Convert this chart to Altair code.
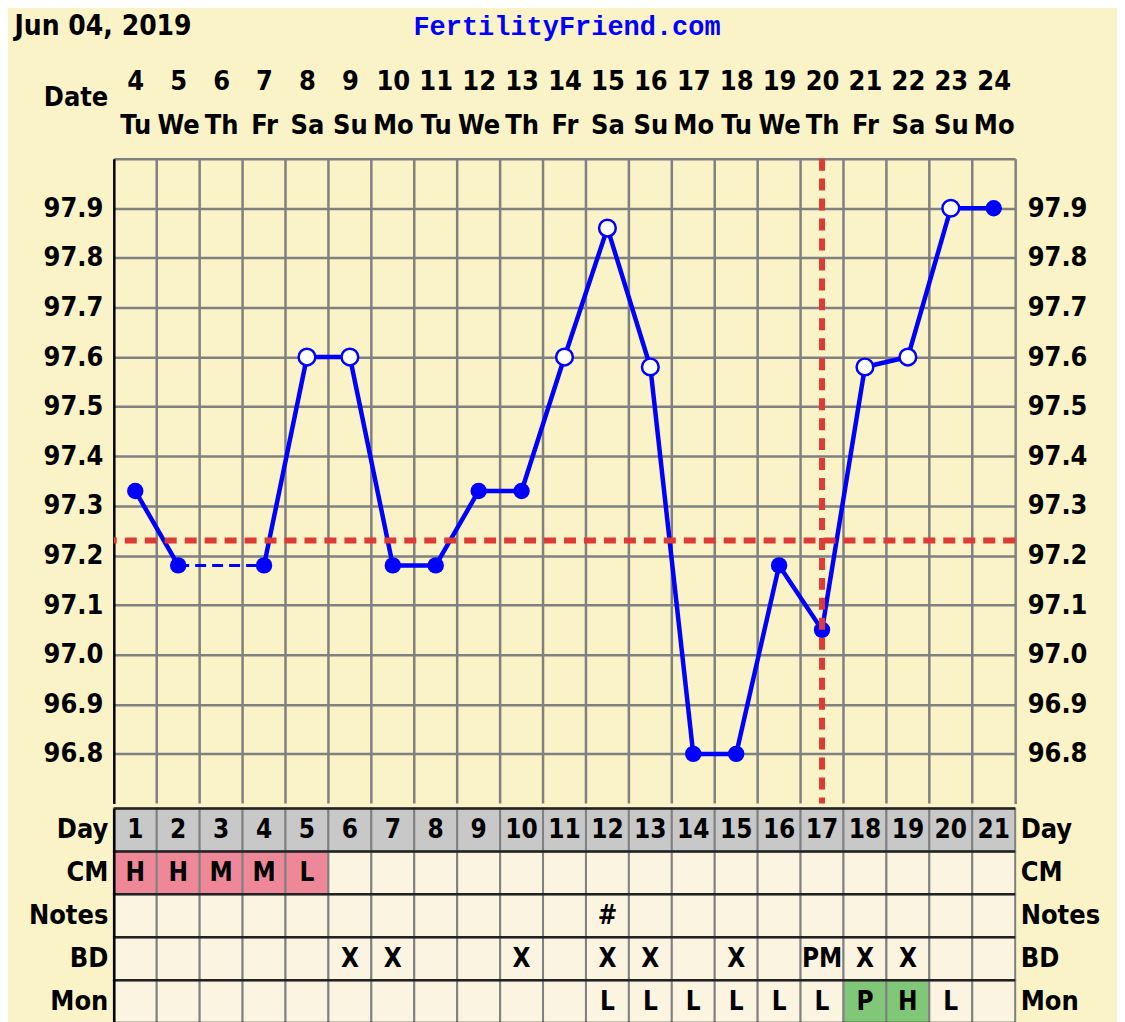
import json
import altair as alt
import pandas as pd

# ---------------- data ----------------
title_date = "Jun 04, 2019"
site_name = "FertilityFriend.com"
dates = list(range(4, 25))
weekdays = ["Tu", "We", "Th", "Fr", "Sa", "Su", "Mo", "Tu", "We", "Th", "Fr",
            "Sa", "Su", "Mo", "Tu", "We", "Th", "Fr", "Sa", "Su", "Mo"]
cycle_days = list(range(1, 22))
temps = [97.33, 97.18, None, 97.18, 97.60, 97.60, 97.18, 97.18, 97.33, 97.33, 97.60,
         97.86, 97.58, 96.80, 96.80, 97.18, 97.05, 97.58, 97.60, 97.90, 97.90]
open_circle = [False, False, False, False, True, True, False, False, False, False, True,
               True, True, False, False, False, False, True, True, True, False]
coverline = 97.23
ovulation_day = 17
temp_ticks = [96.8, 96.9, 97.0, 97.1, 97.2, 97.3, 97.4, 97.5, 97.6, 97.7, 97.8, 97.9, 98.0]
row_names = ["Day", "CM", "Notes", "BD", "Mon"]
cm = ["H", "H", "M", "M", "L"] + [""] * 16
notes = [""] * 11 + ["#"] + [""] * 9
bd = ["", "", "", "", "", "X", "X", "", "", "X", "", "X", "X", "", "X", "", "PM", "X", "X", "", ""]
mon = [""] * 11 + ["L", "L", "L", "L", "L", "L", "P", "H", "L", ""]

# ---------------- styles ----------------
FONT = "DejaVu Sans Condensed"
MONO = "Liberation Mono"
BG = "#FAF3C7"
CELL = "#FBF4E0"
GRID = "#808080"
BLUE = "#0000FF"
RED = "#DD3B35"
W = 903
H_TEMP = 646
H_TAB = 215
FS = 27
TITLE_Y = -132

xs = alt.Scale(domain=[cycle_days[0] - 0.5, cycle_days[-1] + 0.5], nice=False, zero=False)
ys = alt.Scale(domain=[96.7, 98.0], nice=False, zero=False)

# top axis: date number and weekday on two lines, "Jun 04, 2019" as its title
date_js = json.dumps([str(d) for d in dates])
dow_js = json.dumps(weekdays)
x_top = alt.Axis(
    orient="top", values=cycle_days,
    labelExpr="[%s[datum.value - 1], %s[datum.value - 1]]" % (date_js, dow_js),
    labelFont=FONT, labelFontSize=FS, labelFontWeight="bold", labelColor="black",
    labelBaseline="middle", labelLineHeight=44, labelPadding=77,
    labelOverlap=False, labelFlush=False, labelBound=False,
    domain=False, ticks=False, tickSize=0, grid=False,
    title=title_date, titleFont=FONT, titleFontSize=28, titleFontWeight="bold", titleColor="black",
    titleAlign="left", titleBaseline="middle", titleAngle=0, titleX=-100, titleY=TITLE_Y,
)

axis_common = dict(
    values=temp_ticks,
    labelExpr="datum.value > 97.95 ? '' : format(datum.value, '.1f')",
    labelFont=FONT, labelFontSize=FS, labelFontWeight="bold", labelColor="black",
    labelOverlap=False, labelFlush=False,
    ticks=False, tickSize=0,
)
left_axis = alt.Axis(
    orient="left", grid=True, gridColor=GRID, gridWidth=2.5, gridOpacity=1,
    domain=True, domainColor="black", domainWidth=2.5, labelPadding=11,
    title="Date", titleFont=FONT, titleFontSize=FS, titleFontWeight="bold", titleColor="black",
    titleAngle=0, titleAlign="right", titleBaseline="middle", titleX=-6, titleY=-61,
    **axis_common)
right_axis = alt.Axis(
    orient="right", grid=False, domain=True, domainColor=GRID, domainWidth=2.5, labelPadding=12,
    title=site_name, titleFont=MONO, titleFontSize=27, titleFontWeight="bold", titleColor=BLUE,
    titleAngle=0, titleAlign="center", titleBaseline="middle", titleX=-W / 2 + 2, titleY=TITLE_Y,
    **axis_common)

# ---------------- temperature chart ----------------
pts = [(d, t, o) for d, t, o in zip(cycle_days, temps, open_circle) if t is not None]
pt_df = pd.DataFrame(pts, columns=["day", "temp", "open"])
segs = []
for (d0, t0, _), (d1, t1, _) in zip(pts[:-1], pts[1:]):
    segs.append({"x0": d0, "x1": d1, "y0": t0, "y1": t1, "gap": (d1 - d0) > 1})
seg_df = pd.DataFrame(segs)
bounds_df = pd.DataFrame({"b": [d + 0.5 for d in cycle_days[:-1]]})

vgrid = alt.Chart(bounds_df).mark_rule(color=GRID, strokeWidth=2.5).encode(
    x=alt.X("b:Q", scale=xs, axis=x_top))
solid = alt.Chart(seg_df[~seg_df["gap"]]).mark_rule(color=BLUE, strokeWidth=4.5, strokeCap="round").encode(
    x=alt.X("x0:Q", scale=xs, axis=x_top), x2="x1:Q",
    y=alt.Y("y0:Q", scale=ys, axis=left_axis), y2="y1:Q")
dashed = alt.Chart(seg_df[seg_df["gap"]]).mark_rule(color=BLUE, strokeWidth=3, strokeDash=[11, 6]).encode(
    x=alt.X("x0:Q", scale=xs, axis=x_top), x2="x1:Q",
    y=alt.Y("y0:Q", scale=ys, axis=None), y2="y1:Q")
filled_pts = alt.Chart(pt_df[~pt_df["open"]]).mark_circle(size=270, color=BLUE, opacity=1).encode(
    x=alt.X("day:Q", scale=xs, axis=x_top),
    y=alt.Y("temp:Q", scale=ys, axis=right_axis))
open_pts = alt.Chart(pt_df[pt_df["open"]]).mark_circle(
    size=280, fill="white", stroke=BLUE, strokeWidth=2.5, opacity=1).encode(
    x=alt.X("day:Q", scale=xs, axis=x_top),
    y=alt.Y("temp:Q", scale=ys, axis=None))
cover = alt.Chart(pd.DataFrame({"y": [coverline]})).mark_rule(color=RED, strokeWidth=6, strokeDash=[12, 8]).encode(
    y=alt.Y("y:Q", scale=ys, axis=None))
ovu = alt.Chart(pd.DataFrame({"x": [ovulation_day]})).mark_rule(color=RED, strokeWidth=6, strokeDash=[12, 8]).encode(
    x=alt.X("x:Q", scale=xs, axis=x_top))

temp_chart = alt.layer(vgrid, solid, dashed, filled_pts, open_pts, cover, ovu).resolve_scale(
    y="independent").properties(width=W, height=H_TEMP)

# ---------------- table ----------------
cells = []
for i, d in enumerate(cycle_days):
    cells.append({"day": d, "row": "Day", "label": str(d), "kind": "day"})
    cells.append({"day": d, "row": "CM", "label": cm[i], "kind": "cm" if cm[i] else "blank"})
    cells.append({"day": d, "row": "Notes", "label": notes[i], "kind": "blank"})
    cells.append({"day": d, "row": "BD", "label": bd[i], "kind": "blank"})
    cells.append({"day": d, "row": "Mon", "label": mon[i], "kind": "mon" if mon[i] in ("P", "H") else "blank"})
cell_df = pd.DataFrame(cells)

ty = alt.Scale(domain=row_names, paddingInner=0, paddingOuter=0)
tab_axis_common = dict(labelFont=FONT, labelFontSize=FS, labelFontWeight="bold", labelColor="black",
                       ticks=False, tickSize=0, grid=False, title=None)
tab_left = alt.Axis(orient="left", domain=True, domainColor="black", domainWidth=2.5,
                    labelPadding=6, **tab_axis_common)
tab_right = alt.Axis(orient="right", domain=False, labelPadding=5, **tab_axis_common)

rects = alt.Chart(cell_df).transform_calculate(
    x0="datum.day - 0.5", x1="datum.day + 0.5").mark_rect(stroke=GRID, strokeWidth=2).encode(
    x=alt.X("x0:Q", scale=xs, axis=None), x2="x1:Q",
    y=alt.Y("row:N", scale=ty, axis=tab_left),
    fill=alt.Fill("kind:N", legend=None, scale=alt.Scale(
        domain=["day", "cm", "mon", "blank"], range=["#C8C8C8", "#EE8899", "#80C878", CELL])))
hlines = alt.Chart(pd.DataFrame({"row": row_names})).mark_rule(color="#222222", strokeWidth=2.5).encode(
    y=alt.Y("row:N", scale=ty, bandPosition=0, axis=None))
bottom_line = alt.Chart(pd.DataFrame({"row": row_names[-1:]})).mark_rule(color="#222222", strokeWidth=2.5).encode(
    y=alt.Y("row:N", scale=ty, bandPosition=1, axis=None))
cell_text = alt.Chart(cell_df).mark_text(font=FONT, fontSize=26, fontWeight="bold", color="black").encode(
    x=alt.X("day:Q", scale=xs, axis=None),
    y=alt.Y("row:N", scale=ty, axis=tab_right),
    text="label:N")

table = alt.layer(rects, hlines, bottom_line, cell_text).resolve_scale(
    y="independent").properties(width=W, height=H_TAB)

chart = alt.vconcat(temp_chart, table, spacing=0).properties(
    background=BG,
    padding={"left": 6, "top": 4, "right": 17, "bottom": 1},
).configure_view(stroke=None)

chart.save("out.html", embed_options={"renderer": "svg", "actions": False})
